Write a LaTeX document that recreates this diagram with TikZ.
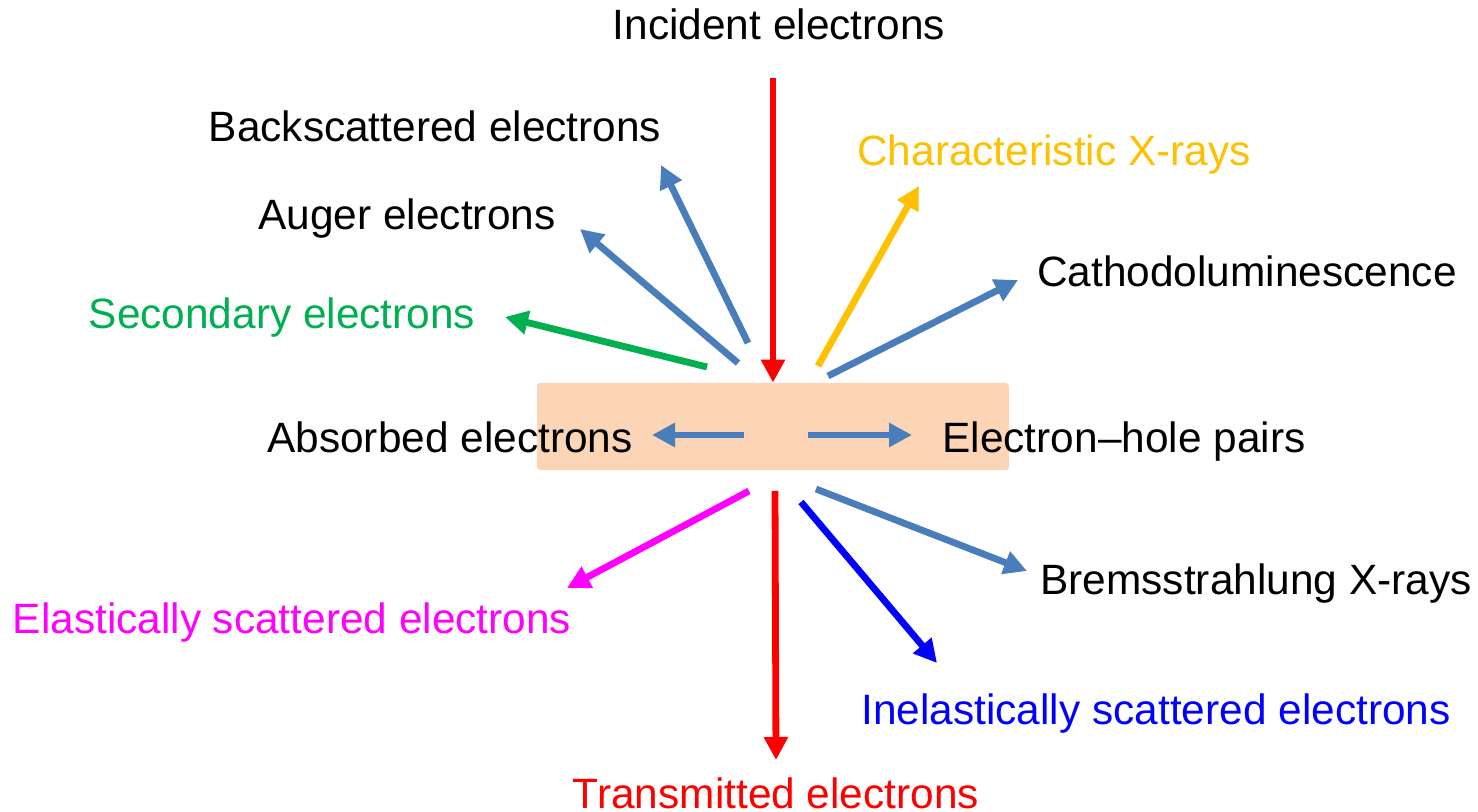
\documentclass[tikz,border=0pt]{standalone}
\usepackage{fontspec}
\setmainfont{Liberation Sans}
\usetikzlibrary{arrows.meta,positioning}

\definecolor{steel}{RGB}{74,126,187}
\definecolor{peach}{RGB}{251,213,181}
\definecolor{sgreen}{RGB}{0,176,80}
\definecolor{amber}{RGB}{255,192,0}
\definecolor{pmagenta}{RGB}{255,0,255}
\definecolor{pred}{RGB}{255,0,0}
\definecolor{pblue}{RGB}{0,0,255}

\tikzset{
  lbl/.style={anchor=base,inner sep=0pt,font=\fontsize{21.2pt}{25pt}\selectfont},
  ray/.style={line width=3.4pt,-{Triangle[length=11.5pt,width=11.5pt]}},
  sample/.style={fill=peach,rounded corners=1.5pt,inner sep=0pt,minimum width=236pt,minimum height=43.5pt}
}

\begin{document}
\begin{tikzpicture}[x=0.5pt,y=-0.5pt]
    \useasboundingbox (0,0) rectangle (1478,812);

    % Specimen
    \node[sample] (sample) at (773,426.5) {};

    % Labels
    \node[lbl] (incident) at (779,40) {Incident electrons};
    \node[lbl] (backsc) at (435,142) {Backscattered electrons};
    \node[lbl] (auger) at (407,230) {Auger electrons};
    \node[lbl,sgreen] (second) at (282,329) {Secondary electrons};
    \node[lbl,amber] (charx) at (1054,166) {Characteristic X-rays};
    \node[lbl] (cathodo) at (1247,287) {Cathodoluminescence};
    \node[lbl] (absorb) at (450,452) {Absorbed electrons};
    \node[lbl] (ehpair) at (1124,452) {Electron–hole pairs};
    \node[lbl] (brems) at (1256,594) {Bremsstrahlung X-rays};
    \node[lbl,pmagenta] (elastic) at (292,633) {Elastically scattered electrons};
    \node[lbl,pblue] (inelastic) at (1156,724) {Inelastically scattered electrons};
    \node[lbl,pred] (transm) at (776,808) {Transmitted electrons};

    % Ray end points
    \coordinate (incTop) at (773,78);
    \coordinate (bsA) at (748,343);   \coordinate (bsB) at (661,165);
    \coordinate (auA) at (738,363);   \coordinate (auB) at (580,229);
    \coordinate (seA) at (707,367);   \coordinate (seB) at (505,317);
    \coordinate (cxA) at (818,366);   \coordinate (cxB) at (919,186);
    \coordinate (clA) at (828,376);   \coordinate (clB) at (1018,280);
    \coordinate (abA) at (744,435);   \coordinate (abB) at (652,435);
    \coordinate (ehA) at (808,435);   \coordinate (ehB) at (912,435);
    \coordinate (elA) at (749,491);   \coordinate (elB) at (567,588);
    \coordinate (trA) at (775,491);   \coordinate (trB) at (776,760);
    \coordinate (inA) at (801,502);   \coordinate (inB) at (937,663);
    \coordinate (brA) at (816,489);   \coordinate (brB) at (1027,571);

    % Incoming beam
    \draw[ray,pred] (incTop) -- (sample.north);

    % Emitted above the specimen
    \draw[ray,steel] (bsA) -- (bsB);
    \draw[ray,steel] (auA) -- (auB);
    \draw[ray,sgreen] (seA) -- (seB);
    \draw[ray,amber] (cxA) -- (cxB);
    \draw[ray,steel] (clA) -- (clB);

    % Inside the specimen
    \draw[ray,steel] (abA) -- (abB);
    \draw[ray,steel] (ehA) -- (ehB);

    % Below the specimen
    \draw[ray,pmagenta] (elA) -- (elB);
    \draw[ray,pred] (trA) -- (trB);
    \draw[ray,pblue] (inA) -- (inB);
    \draw[ray,steel] (brA) -- (brB);
\end{tikzpicture}
\end{document}
